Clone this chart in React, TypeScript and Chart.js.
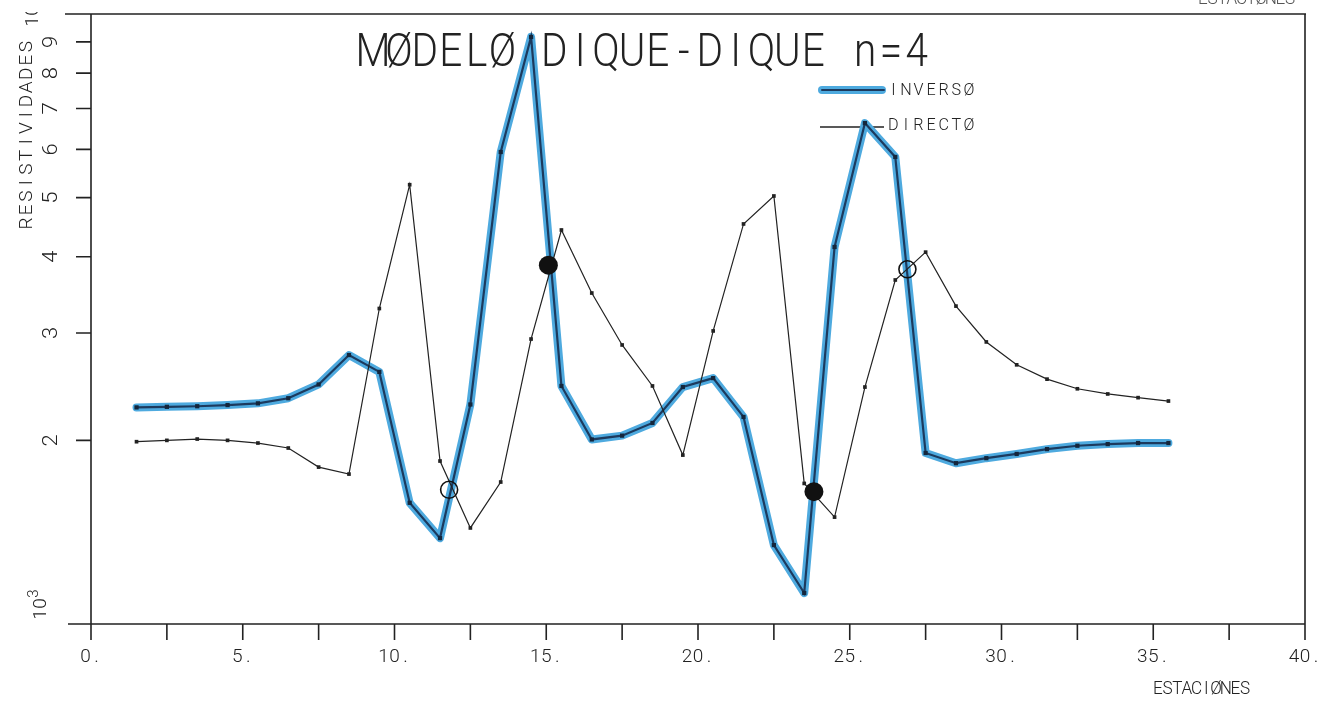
import React, { useEffect, useRef } from 'react';
import { Chart, registerables } from 'chart.js';

Chart.register(...registerables);

// ---------------- data ----------------
const stations = [
  1.5, 2.5, 3.5, 4.5, 5.5, 6.5, 7.5, 8.5, 9.5, 10.5, 11.5, 12.5, 13.5, 14.5, 15.5, 16.5, 17.5, 18.5,
  19.5, 20.5, 21.5, 22.5, 23.5, 24.5, 25.5, 26.5, 27.5, 28.5, 29.5, 30.5, 31.5, 32.5, 33.5, 34.5, 35.5,
];
const inverso = [
  2265, 2270, 2275, 2285, 2300, 2345, 2470, 2760, 2590, 1580, 1383, 2290, 5940, 9170, 2456, 2007, 2036, 2136,
  2446, 2530, 2185, 1347, 1124, 4150, 6625, 5830, 1907, 1835, 1870, 1900, 1935, 1960, 1972, 1980, 1980,
];
const directo = [
  1990, 2000, 2010, 2000, 1980, 1943, 1808, 1761, 3290, 5250, 1850, 1437, 1709, 2932, 4425, 3488, 2867, 2456,
  1892, 3023, 4527, 5031, 1700, 1497, 2446, 3664, 4070, 3320, 2900, 2660, 2520, 2430, 2383, 2350, 2320,
];
const openMarkX = [11.8, 26.9];
const openMarkY = [1660, 3815];
const solidMarkX = [15.07, 23.82];
const solidMarkY = [3875, 1648];

const xTicks = [0, 2.5, 5, 7.5, 10, 12.5, 15, 17.5, 20, 22.5, 25, 27.5, 30, 32.5, 35, 37.5, 40];
const xLabelValues = [0, 5, 10, 15, 20, 25, 30, 35, 40];
const xLabels = ['0.', '5.', '10.', '15.', '20.', '25.', '30.', '35.', '40.'];
const yTicks = [2000, 3000, 4000, 5000, 6000, 7000, 8000, 9000];
const yLabels = ['2', '3', '4', '5', '6', '7', '8', '9'];

const titleText = 'MØDELØ DIQUE-DIQUE n=4';
const legendInverso = 'INVERSØ';
const legendDirecto = 'DIRECTØ';
const xTitle = 'ESTACIØNES';
const yTitle = 'RESISTIVIDADES';

// ---------------- styles ----------------
const INK = '#222';
const BLUE = '#4eaadf';
const NAVY = '#1c3a5e';
const FONT = 'Roboto, "DejaVu Sans", sans-serif';

function monoText(
  ctx: CanvasRenderingContext2D,
  text: string,
  x0: number,
  yBase: number,
  size: number,
  cell: number,
  sx: number,
  color = INK,
  weight = 300,
) {
  ctx.save();
  ctx.fillStyle = color;
  ctx.font = `${weight} ${size}px ${FONT}`;
  ctx.textAlign = 'center';
  ctx.textBaseline = 'alphabetic';
  for (let i = 0; i < text.length; i++) {
    const cx = x0 + cell * (i + 0.5);
    ctx.save();
    ctx.translate(cx, yBase);
    ctx.scale(sx, 1);
    ctx.fillText(text[i], 0, 0);
    ctx.restore();
  }
  ctx.restore();
}

const plotterPlugin = {
  id: 'plotter',
  beforeDatasetsDraw(chart: any) {
    const ctx: CanvasRenderingContext2D = chart.ctx;
    const xs = chart.scales.x;
    const ys = chart.scales.y;
    const left = xs.getPixelForValue(0);
    const right = xs.getPixelForValue(40);
    const top = ys.getPixelForValue(10000);
    const bottom = ys.getPixelForValue(1000);

    ctx.save();
    ctx.strokeStyle = INK;
    ctx.lineWidth = 1.6;
    ctx.lineCap = 'butt';
    ctx.beginPath();
    ctx.moveTo(left - 26, top);
    ctx.lineTo(right + 1, top);
    ctx.moveTo(right, top);
    ctx.lineTo(right, bottom + 16);
    ctx.moveTo(left, top);
    ctx.lineTo(left, bottom + 16);
    ctx.moveTo(left - 23, bottom);
    ctx.lineTo(right, bottom);
    for (const t of xTicks) {
      const px = xs.getPixelForValue(t);
      ctx.moveTo(px, bottom);
      ctx.lineTo(px, bottom + 16);
    }
    for (const t of yTicks) {
      const py = ys.getPixelForValue(t);
      ctx.moveTo(left - 15, py);
      ctx.lineTo(left, py);
    }
    ctx.stroke();

    // x tick labels
    xLabels.forEach((lab, i) => {
      const px = xs.getPixelForValue(xLabelValues[i]);
      const cell = 11;
      monoText(ctx, lab, px - (lab.length * cell) / 2, 662, 19, cell, 1.0);
    });

    // y tick labels (rotated)
    yLabels.forEach((lab, i) => {
      const py = ys.getPixelForValue(yTicks[i]);
      ctx.save();
      ctx.translate(50, py);
      ctx.rotate(-Math.PI / 2);
      monoText(ctx, lab, -7, 7, 21, 14, 1.05);
      ctx.restore();
    });

    // 10^3 at bottom
    ctx.save();
    ctx.translate(39, bottom - 4);
    ctx.rotate(-Math.PI / 2);
    monoText(ctx, '10', 0, 7, 19, 11, 1.0);
    monoText(ctx, '3', 22, -1, 15, 9, 1.0);
    ctx.restore();

    // 10^4 at top (cut by the edge of the scan)
    ctx.save();
    ctx.beginPath();
    ctx.rect(0, top - 2, 80, 40);
    ctx.clip();
    ctx.translate(31, top + 13);
    ctx.rotate(-Math.PI / 2);
    monoText(ctx, '10', 0, 7, 19, 11, 1.0);
    monoText(ctx, '4', 22, -1, 15, 9, 1.0);
    ctx.restore();

    // axis titles
    monoText(ctx, xTitle, 1153, 694, 18, 9.7, 0.95);
    ctx.save();
    ctx.translate(25, 135);
    ctx.rotate(-Math.PI / 2);
    monoText(ctx, yTitle, -(yTitle.length * 13.6) / 2, 7, 19, 13.6, 1.0);
    ctx.restore();

    // cut-off header text at top right
    monoText(ctx, xTitle, 1198, 4, 18, 9.7, 0.95, '#555');

    // title
    monoText(ctx, titleText, 360, 66, 46, 25.9, 0.88);

    // legend
    ctx.lineCap = 'round';
    ctx.strokeStyle = BLUE;
    ctx.lineWidth = 8;
    ctx.beginPath();
    ctx.moveTo(822, 90);
    ctx.lineTo(882, 90);
    ctx.stroke();
    ctx.strokeStyle = NAVY;
    ctx.lineWidth = 2;
    ctx.beginPath();
    ctx.moveTo(822, 90);
    ctx.lineTo(884, 90);
    ctx.stroke();
    ctx.strokeStyle = INK;
    ctx.lineWidth = 1.3;
    ctx.lineCap = 'butt';
    ctx.beginPath();
    ctx.moveTo(820, 127);
    ctx.lineTo(884, 127);
    ctx.stroke();
    monoText(ctx, legendInverso, 887, 95, 17, 12.6, 0.95);
    monoText(ctx, legendDirecto, 887, 130, 17, 12.6, 0.95);

    ctx.restore();
  },
};

export default function App() {
  const ref = useRef<HTMLCanvasElement | null>(null);

  useEffect(() => {
    if (!ref.current) return;
    const pts = (ys: number[]) => stations.map((x, i) => ({ x, y: ys[i] }));
    const chart = new Chart(ref.current, {
      type: 'line',
      data: {
        datasets: [
          {
            label: 'open',
            data: openMarkX.map((x, i) => ({ x, y: openMarkY[i] })),
            showLine: false,
            pointStyle: 'circle',
            pointRadius: 8.5,
            pointBorderWidth: 1.6,
            pointBorderColor: '#111',
            pointBackgroundColor: 'rgba(0,0,0,0)',
          },
          {
            label: 'solid',
            data: solidMarkX.map((x, i) => ({ x, y: solidMarkY[i] })),
            showLine: false,
            pointStyle: 'circle',
            pointRadius: 9.5,
            pointBorderWidth: 0,
            pointBorderColor: '#111',
            pointBackgroundColor: '#111',
          },
          {
            label: 'DIRECTO',
            data: pts(directo),
            borderColor: INK,
            borderWidth: 1.2,
            pointStyle: 'rect',
            pointRadius: 2.6,
            pointBorderWidth: 0,
            pointBackgroundColor: '#222',
            tension: 0,
          },
          {
            label: 'INVERSO',
            data: pts(inverso),
            borderColor: NAVY,
            borderWidth: 2.2,
            pointStyle: 'rect',
            pointRadius: 3,
            pointBorderWidth: 0,
            pointBackgroundColor: '#14263c',
            tension: 0,
          },
          {
            label: 'INVERSO-highlight',
            data: pts(inverso),
            borderColor: BLUE,
            borderWidth: 8,
            borderCapStyle: 'round',
            borderJoinStyle: 'round',
            pointRadius: 0,
            tension: 0,
          },
        ],
      },
      options: {
        animation: false,
        responsive: false,
        maintainAspectRatio: false,
        layout: { padding: { left: 91, right: 33, top: 14, bottom: 80 } },
        scales: {
          x: { type: 'linear', min: 0, max: 40, display: false },
          y: { type: 'logarithmic', min: 1000, max: 10000, display: false },
        },
        plugins: {
          legend: { display: false },
          tooltip: { enabled: false },
          title: { display: false },
        },
        elements: { line: { fill: false } },
      },
      plugins: [plotterPlugin],
    } as any);
    return () => chart.destroy();
  }, []);

  return (
    <div style={{ position: 'absolute', left: 0, top: 0, width: 1338, height: 704, background: '#fff' }}>
      <canvas ref={ref} width={1338} height={704} style={{ display: 'block' }} />
    </div>
  );
}
